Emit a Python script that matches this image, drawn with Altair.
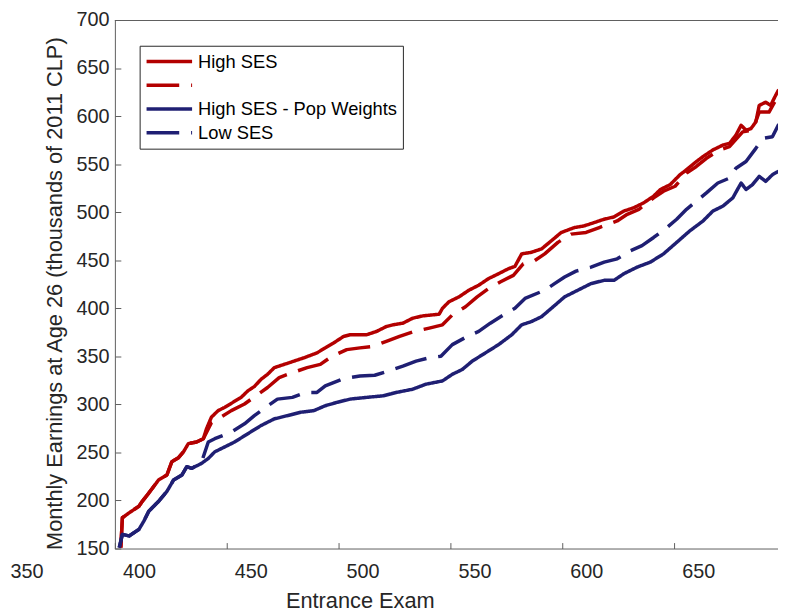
import altair as alt
import pandas as pd

# ---------------- data ----------------
series_names = ["High SES", " ", "High SES - Pop Weights", "Low SES"]
series_colors = ["#B30000", "#B30000", "#1F1F73", "#1F1F73"]
series_dashes = [[1, 0], [33, 12], [1, 0], [33, 12]]

high_x = [391.9, 392.6, 395.6, 400.0, 401.5, 404.4, 408.8, 412.5, 414.7, 417.7, 419.9, 422.1,
          425.8, 428.8, 430.2, 432.4, 435.4, 438.4, 442.0, 445.7, 448.7, 451.6, 454.6, 457.5,
          460.5, 467.1, 473.8, 479.6, 483.3, 487.0, 491.5, 494.4, 501.8, 506.2, 510.6, 513.6,
          518.0, 522.4, 526.9, 534.2, 535.7, 538.6, 543.1, 547.5, 551.9, 556.3, 560.8, 565.2,
          568.1, 571.1, 575.5, 580.0, 584.4, 588.8, 594.7, 599.1, 603.5, 608.0, 612.4, 616.8,
          621.2, 625.7, 630.1, 633.1, 637.5, 641.9, 644.8, 649.2, 652.2, 656.6, 661.1, 664.0,
          666.9, 669.2, 671.4, 673.6, 675.8, 677.3, 680.2, 682.4, 684.6, 685.8, 688.0]
high_y = [151, 182, 187.1, 194.0, 199.1, 207.7, 221.4, 226.5, 240.3, 244.5, 250.6, 259.2,
          260.9, 264.3, 274.6, 286.7, 293.5, 297.0, 302.1, 307.3, 314.1, 318.6, 326.1, 331.3,
          338.2, 343.3, 348.5, 353.6, 358.8, 363.9, 370.7, 372.5, 372.5, 375.9, 381.0, 382.8,
          384.5, 389.7, 392.1, 393.8, 400.0, 406.8, 411.9, 418.8, 424.0, 430.9, 436.0, 441.2,
          443.6, 456.6, 458.3, 461.8, 470.3, 478.9, 484.0, 485.8, 489.2, 492.7, 495.1, 501.2,
          504.6, 509.8, 516.7, 523.6, 528.7, 539.0, 544.2, 552.7, 557.9, 564.8, 569.9, 571.6,
          580.2, 590.5, 585.4, 587.0, 593.9, 611.1, 614.5, 611.1, 621.4, 626.6, 629.0]

reddash_x = [391.9, 392.6, 395.6, 400.0, 401.5, 404.4, 408.8, 412.5, 414.7, 417.7, 419.9, 422.1,
             425.8, 428.8, 432.4, 435.4, 441.3, 447.2, 452.3, 457.5, 462.7, 468.6, 475.2, 481.1,
             486.3, 492.9, 498.8, 504.7, 510.6, 516.5, 523.1, 529.8, 535.7, 540.1, 546.0, 551.2,
             556.3, 561.5, 567.4, 571.8, 577.0, 581.4, 587.3, 593.2, 599.9, 605.8, 613.8, 618.3,
             623.5, 630.1, 634.5, 639.7, 644.8, 649.2, 653.7, 659.6, 664.0, 669.9, 674.3, 677.3,
             681.7, 684.6, 685.8, 688.0]
reddash_y = [151, 182, 187.1, 194.0, 199.1, 207.7, 221.4, 226.5, 240.3, 244.5, 250.6, 259.2,
             260.9, 264.3, 280.8, 284.9, 293.5, 300.4, 308.9, 317.6, 327.9, 333.0, 338.2, 341.6,
             350.1, 357.0, 358.8, 360.4, 365.6, 370.7, 375.9, 379.4, 382.8, 393.1, 401.6, 411.9,
             420.6, 427.4, 434.3, 446.3, 449.7, 456.6, 468.6, 477.2, 478.9, 484.0, 490.9, 497.8,
             503.0, 514.9, 521.8, 527.0, 540.7, 547.6, 556.1, 564.8, 568.2, 583.6, 585.4, 604.2,
             604.2, 616.3, 622.8, 625.0]

popw_x = [391.2, 392.6, 395.6, 400.0, 402.2, 404.4, 408.8, 412.5, 415.5, 419.2, 421.4, 423.6,
          428.0, 431.0, 433.9, 438.4, 442.8, 448.7, 454.6, 460.5, 466.4, 472.3, 478.2, 483.3,
          488.5, 494.4, 501.8, 509.2, 515.0, 522.4, 528.3, 535.7, 540.1, 544.6, 549.0, 554.9,
          560.8, 566.7, 571.1, 575.5, 580.0, 584.4, 590.3, 596.2, 602.1, 608.0, 612.4, 616.8,
          622.7, 628.6, 634.5, 640.4, 646.3, 652.2, 656.6, 661.1, 665.5, 669.2, 671.4, 674.3,
          677.3, 680.2, 683.2, 685.8, 688.0]
popw_y = [151, 164.7, 163.1, 169.9, 178.5, 188.8, 199.1, 209.4, 221.4, 226.5, 235.2, 233.4,
          238.6, 243.7, 250.6, 255.8, 260.9, 269.5, 278.0, 284.9, 288.3, 291.8, 293.5, 298.6,
          302.1, 305.5, 307.3, 308.9, 312.4, 315.8, 321.0, 324.4, 331.3, 336.4, 345.0, 353.6,
          362.2, 372.5, 382.8, 386.2, 391.3, 400.0, 411.9, 418.8, 425.7, 429.1, 429.1, 436.0,
          442.8, 448.0, 456.6, 468.6, 480.6, 490.9, 501.2, 506.4, 514.9, 530.4, 523.6, 528.7,
          537.3, 532.1, 539.0, 542.4, 543.0]

low_x = [391.2, 392.6, 395.6, 400.0, 402.2, 404.4, 408.8, 412.5, 415.5, 419.2, 421.4, 423.6,
         428.0, 431.0, 433.9, 441.3, 447.2, 451.6, 456.8, 461.9, 468.6, 474.5, 479.6, 483.3,
         491.5, 498.8, 505.4, 511.4, 518.0, 523.9, 529.8, 535.0, 540.1, 546.8, 551.9, 557.1,
         563.0, 568.1, 572.6, 581.4, 585.8, 590.3, 595.4, 602.1, 608.0, 613.8, 619.8, 624.9,
         630.1, 636.0, 640.4, 644.8, 649.2, 653.7, 658.8, 664.0, 666.9, 671.4, 675.8, 678.8,
         683.2, 685.8, 688.0]
low_y = [151, 164.7, 163.1, 169.9, 178.5, 188.8, 199.1, 209.4, 221.4, 226.5, 235.2, 233.4,
         240.0, 260.9, 264.3, 271.2, 279.8, 288.3, 297.0, 305.5, 307.3, 312.4, 312.4, 319.2,
         326.9, 329.5, 330.3, 334.7, 339.8, 345.0, 348.5, 350.1, 362.2, 370.7, 375.9, 384.5,
         393.1, 400.0, 410.3, 418.8, 425.7, 432.5, 438.7, 442.8, 448.0, 451.5, 460.0, 465.2,
         473.7, 484.0, 492.7, 503.0, 511.5, 520.1, 530.4, 535.5, 545.8, 552.7, 566.4, 576.7,
         578.5, 590.5, 594.0]

x_domain = [389.25, 685.7]
y_domain = [150, 700]
x_tick_values = [400, 450, 500, 550, 600, 650]
x_extra_label = [350]
y_tick_values = [150, 200, 250, 300, 350, 400, 450, 500, 550, 600, 650, 700]

# ---------------- build table ----------------
frames = []
for name, xs, ys in [(series_names[0], high_x, high_y),
                     (series_names[1], reddash_x, reddash_y),
                     (series_names[2], popw_x, popw_y),
                     (series_names[3], low_x, low_y)]:
    frames.append(pd.DataFrame({"series": name, "exam": xs, "earn": ys}))
df = pd.concat(frames, ignore_index=True)

W, H = 670, 534
FONT = "Liberation Sans"
TXT = "#262626"
FRAME = "#5e5e5e"

legend = alt.Legend(
    orient="none", legendX=25, legendY=26, title=None,
    symbolType="stroke", symbolSize=2116, symbolStrokeWidth=3.5,
    labelFont=FONT, labelFontSize=18.5, labelColor="#000000", labelLimit=400,
    labelOffset=4, padding=5, clipHeight=22, rowPadding=2,
    fillColor="white", strokeColor="#262626",
)

xscale = alt.Scale(domain=x_domain, nice=False, zero=False)
yscale = alt.Scale(domain=y_domain, nice=False, zero=False)

x_axis = alt.Axis(
    values=x_tick_values, format="d", title="Entrance Exam",
    domain=False, grid=False, tickSize=6, tickColor=FRAME, offset=-6,
    tickOffset=-24, labelOffset=24, labelPadding=13.5, labelFlush=False,
    labelFont=FONT, labelFontSize=20, labelColor=TXT,
    titleFont=FONT, titleFontSize=22, titleFontWeight="normal", titleColor=TXT,
    titleX=247.5, titleY=66, titleBaseline="alphabetic", titleAlign="center")

lines = alt.Chart(df).mark_line(strokeWidth=3.5, clip=True, strokeJoin="round").encode(
    x=alt.X("exam:Q", scale=xscale, axis=x_axis),
    y=alt.Y("earn:Q", scale=yscale, axis=alt.Axis(
        values=y_tick_values, format="d",
        title="Monthly Earnings at Age 26 (thousands of 2011 CLP)",
        domain=False, grid=False, tickSize=6, tickColor=FRAME, offset=-6,
        labelPadding=6, labelFlush=False,
        labelFont=FONT, labelFontSize=20, labelColor=TXT,
        titleFont=FONT, titleFontSize=22, titleFontWeight="normal", titleColor=TXT,
        titleX=-60, titleY=276, titleAngle=270, titleBaseline="alphabetic", titleAlign="center")),
    color=alt.Color("series:N", scale=alt.Scale(domain=series_names, range=series_colors), legend=legend),
    strokeDash=alt.StrokeDash("series:N", scale=alt.Scale(domain=series_names, range=series_dashes), legend=legend),
)

extra = alt.Chart(pd.DataFrame({"exam": x_extra_label})).mark_text(
    font=FONT, fontSize=20, color=TXT, baseline="top", align="center"
).encode(
    x=alt.X("exam:Q", scale=xscale, axis=x_axis),
    y=alt.value(H + 13.5),
    text=alt.Text("exam:Q", format="d"),
)

one = pd.DataFrame({"k": [0]})
top_rule = alt.Chart(one).mark_rule(color=FRAME, strokeWidth=1).encode(
    x=alt.value(0), x2=alt.value(W), y=alt.value(0.5))
left_rule = alt.Chart(one).mark_rule(color=FRAME, strokeWidth=1).encode(
    x=alt.value(0.5), y=alt.value(0), y2=alt.value(H + 0.5))
bottom_rule = alt.Chart(one).mark_rule(color=FRAME, strokeWidth=1).encode(
    x=alt.value(0), x2=alt.value(W), y=alt.value(H + 0.5))

chart = alt.layer(lines, extra, top_rule, left_rule, bottom_rule).properties(
    width=W, height=H,
    autosize=alt.AutoSizeParams(type="none"),
    padding={"left": 108, "top": 9, "right": 0, "bottom": 61},
    background="white",
).configure_view(stroke=None)

chart.save("out.html", embed_options={"renderer": "svg", "actions": False})
